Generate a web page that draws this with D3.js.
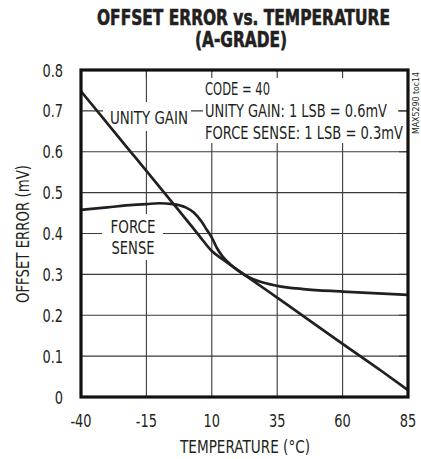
<!DOCTYPE html>
<html>
<head>
<meta charset="utf-8">
<script src="https://cdn.jsdelivr.net/npm/d3@7"></script>
<style>
  body { margin: 0; background: #fff; }
  text { font-family: "Liberation Sans Narrow", "DejaVu Sans Condensed", "Liberation Sans", sans-serif; fill: #231f20; }
</style>
</head>
<body>
<div id="chart"></div>
<script>
// data
var xTicks = [-40, -15, 10, 35, 60, 85];
var yTicks = [0, 0.1, 0.2, 0.3, 0.4, 0.5, 0.6, 0.7, 0.8];
var yTickLabels = ["0", "0.1", "0.2", "0.3", "0.4", "0.5", "0.6", "0.7", "0.8"];

var unityTemp  = [-40, -30, -20, -15, -10, -5, 0, 5, 10, 15, 20, 25, 35, 45, 60, 75, 85];
var unityValue = [0.748, 0.670, 0.592, 0.553, 0.514, 0.475, 0.436, 0.396, 0.357, 0.333, 0.310, 0.288, 0.243, 0.198, 0.130, 0.063, 0.017];

var forceTemp  = [-40, -30, -20, -15, -10, -5, 0, 3, 6, 8, 10, 12, 14, 17, 20, 24, 28, 35, 45, 60, 85];
var forceValue = [0.458, 0.464, 0.470, 0.472, 0.474, 0.472, 0.464, 0.452, 0.430, 0.410, 0.390, 0.364, 0.345, 0.325, 0.310, 0.294, 0.283, 0.272, 0.264, 0.258, 0.250];

var W = 421, H = 459;
var plotL = 81, plotR = 408, plotT = 70, plotB = 397;

var svg = d3.select("#chart")
  .append("svg")
    .attr("width", W)
    .attr("height", H);

var x = d3.scaleLinear().domain([-40, 85]).range([plotL, plotR]);
var y = d3.scaleLinear().domain([0, 0.8]).range([plotB, plotT]);

// grid
var grid = svg.append("g").attr("stroke", "#3a3a3a").attr("stroke-width", 1.1);
grid.selectAll(".vx")
  .data(xTicks.slice(1, -1))
  .enter().append("line")
    .attr("x1", function(d) { return x(d); })
    .attr("x2", function(d) { return x(d); })
    .attr("y1", plotT).attr("y2", plotB);
grid.selectAll(".hy")
  .data(yTicks.slice(1, -1))
  .enter().append("line")
    .attr("y1", function(d) { return y(d); })
    .attr("y2", function(d) { return y(d); })
    .attr("x1", plotL).attr("x2", plotR);

// white boxes behind the labels
var boxes = [
  [103, 102, 88, 29],   // UNITY GAIN
  [102, 214, 61, 46],   // FORCE SENSE
  [203, 72, 195, 71]    // CODE note
];
svg.selectAll(".box")
  .data(boxes)
  .enter().append("rect")
    .attr("x", function(d) { return d[0]; })
    .attr("y", function(d) { return d[1]; })
    .attr("width", function(d) { return d[2]; })
    .attr("height", function(d) { return d[3]; })
    .attr("fill", "#fff");

// short inner ticks on top and right edges
var ticks = svg.append("g").attr("stroke", "#3a3a3a").attr("stroke-width", 1.1);
ticks.selectAll(".tt")
  .data(xTicks.slice(1, -1))
  .enter().append("line")
    .attr("x1", function(d) { return x(d); })
    .attr("x2", function(d) { return x(d); })
    .attr("y1", plotT).attr("y2", plotT + 8);
ticks.selectAll(".tr")
  .data(yTicks.slice(1, -1))
  .enter().append("line")
    .attr("y1", function(d) { return y(d); })
    .attr("y2", function(d) { return y(d); })
    .attr("x1", plotR - 9).attr("x2", plotR);

// curves
var line = d3.line()
  .x(function(d) { return x(d[0]); })
  .y(function(d) { return y(d[1]); })
  .curve(d3.curveMonotoneX);

svg.append("path")
  .datum(d3.zip(unityTemp, unityValue))
  .attr("d", line)
  .attr("fill", "none")
  .attr("stroke", "#231f20")
  .attr("stroke-width", 2.7);

svg.append("path")
  .datum(d3.zip(forceTemp, forceValue))
  .attr("d", line)
  .attr("fill", "none")
  .attr("stroke", "#231f20")
  .attr("stroke-width", 2.7);

// frame
svg.append("rect")
  .attr("x", plotL).attr("y", plotT)
  .attr("width", plotR - plotL).attr("height", plotB - plotT)
  .attr("fill", "none")
  .attr("stroke", "#111")
  .attr("stroke-width", 3.2);

// tick labels (squeezed to look condensed)
svg.selectAll(".xl")
  .data(xTicks)
  .enter().append("text")
    .attr("transform", function(d) { return "translate(" + x(d) + ",427) scale(0.8,1)"; })
    .attr("text-anchor", "middle")
    .attr("font-size", 18)
    .text(function(d) { return d; });

svg.selectAll(".yl")
  .data(yTicks)
  .enter().append("text")
    .attr("transform", function(d) { return "translate(63," + (y(d) + 6.5) + ") scale(0.8,1)"; })
    .attr("text-anchor", "end")
    .attr("font-size", 18)
    .text(function(d, i) { return yTickLabels[i]; });

// axis titles
svg.append("text")
  .attr("x", 245).attr("y", 453)
  .attr("text-anchor", "middle")
  .attr("font-size", 17)
  .attr("textLength", 130).attr("lengthAdjust", "spacingAndGlyphs")
  .text("TEMPERATURE (°C)");

svg.append("text")
  .attr("transform", "translate(29,234) rotate(-90)")
  .attr("text-anchor", "middle")
  .attr("font-size", 17)
  .attr("textLength", 138).attr("lengthAdjust", "spacingAndGlyphs")
  .text("OFFSET ERROR (mV)");

// title
svg.append("text")
  .attr("x", 243.5).attr("y", 25)
  .attr("text-anchor", "middle")
  .attr("font-size", 21).attr("font-weight", "bold")
  .attr("stroke", "#231f20").attr("stroke-width", 0.6)
  .attr("textLength", 293).attr("lengthAdjust", "spacingAndGlyphs")
  .text("OFFSET ERROR vs. TEMPERATURE");
svg.append("text")
  .attr("x", 241).attr("y", 47)
  .attr("text-anchor", "middle")
  .attr("font-size", 21).attr("font-weight", "bold")
  .attr("stroke", "#231f20").attr("stroke-width", 0.6)
  .attr("textLength", 92).attr("lengthAdjust", "spacingAndGlyphs")
  .text("(A-GRADE)");

// curve labels
svg.append("text")
  .attr("x", 149).attr("y", 124)
  .attr("text-anchor", "middle")
  .attr("font-size", 18)
  .attr("textLength", 78).attr("lengthAdjust", "spacingAndGlyphs")
  .text("UNITY GAIN");
svg.append("text")
  .attr("x", 133).attr("y", 233)
  .attr("text-anchor", "middle")
  .attr("font-size", 18)
  .attr("textLength", 45).attr("lengthAdjust", "spacingAndGlyphs")
  .text("FORCE");
svg.append("text")
  .attr("x", 133).attr("y", 254)
  .attr("text-anchor", "middle")
  .attr("font-size", 18)
  .attr("textLength", 43).attr("lengthAdjust", "spacingAndGlyphs")
  .text("SENSE");

// note
var note = ["CODE = 40", "UNITY GAIN: 1 LSB = 0.6mV", "FORCE SENSE: 1 LSB = 0.3mV"];
var noteLen = [65, 182, 198];
svg.selectAll(".note")
  .data(note)
  .enter().append("text")
    .attr("x", 205)
    .attr("y", function(d, i) { return 95 + i * 22; })
    .attr("font-size", 18)
    .attr("textLength", function(d, i) { return noteLen[i]; })
    .attr("lengthAdjust", "spacingAndGlyphs")
    .text(function(d) { return d; });

// side code
svg.append("text")
  .attr("transform", "translate(419,103) rotate(-90)")
  .attr("text-anchor", "middle")
  .attr("font-size", 8)
  .attr("textLength", 62).attr("lengthAdjust", "spacingAndGlyphs")
  .text("MAX5290 toc14");
</script>
</body>
</html>
